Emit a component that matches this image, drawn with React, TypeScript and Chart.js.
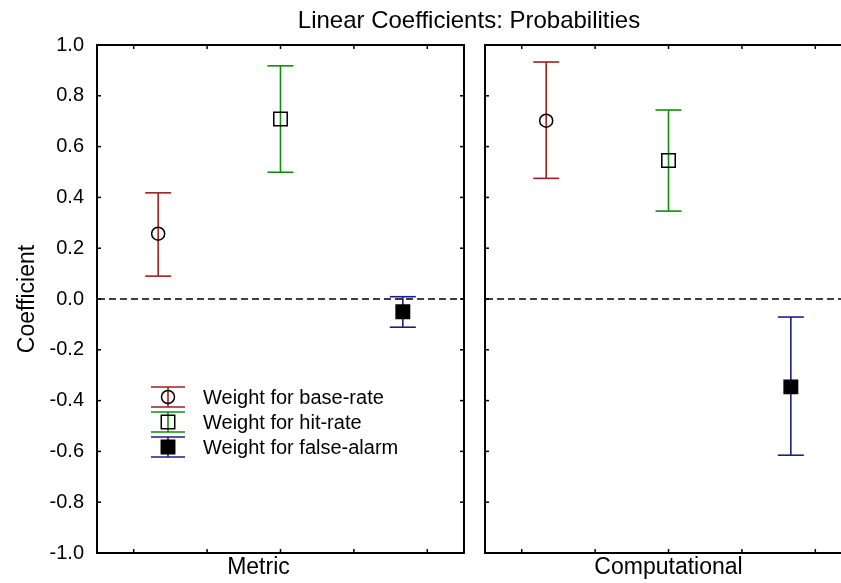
import React, { useEffect, useRef } from 'react';
import { Chart, registerables } from 'chart.js';

Chart.register(...registerables);

// ---------- data ----------
const TITLE = 'Linear Coefficients: Probabilities';
const Y_TITLE = 'Coefficient';
const PANELS = ['Metric', 'Computational'];
const SERIES = ['Weight for base-rate', 'Weight for hit-rate', 'Weight for false-alarm'];

// one value per panel (Metric, Computational)
const BASE_RATE = [0.257, 0.702];
const BASE_RATE_LO = [0.09, 0.475];
const BASE_RATE_HI = [0.418, 0.933];

const HIT_RATE = [0.709, 0.545];
const HIT_RATE_LO = [0.499, 0.346];
const HIT_RATE_HI = [0.918, 0.744];

const FALSE_ALARM = [-0.05, -0.346];
const FALSE_ALARM_LO = [-0.111, -0.615];
const FALSE_ALARM_HI = [0.009, -0.071];

const Y_TICKS = [-1.0, -0.8, -0.6, -0.4, -0.2, 0.0, 0.2, 0.4, 0.6, 0.8, 1.0];

// ---------- layout / style ----------
const W = 841;
const H = 583;
const FONT = '"Liberation Sans", Arial, Helvetica, sans-serif';
const SPAN = 3; // each panel covers 3 x-units (one per series)
const GAP = 0.172; // gap between the panels in x-units
const X_MAX = 6.082; // visible right edge (second panel is cut off)
const LABEL_POS = [1.32, 1.5]; // label centre within each panel
const X_TICK_FRACS = [0.1, 0.3, 0.5, 0.7, 0.9];
const TICK = 4;
const CAP = 13;

const COLORS = ['#9c2020', '#108c10', '#1c1c8c'];
const STYLES = ['circle', 'rect', 'rect'];
const RADII = [6.5, 9.5, 9.5];
const FILLS = ['rgba(0,0,0,0)', 'rgba(0,0,0,0)', '#000'];

const VALUES = [BASE_RATE, HIT_RATE, FALSE_ALARM];
const LOWS = [BASE_RATE_LO, HIT_RATE_LO, FALSE_ALARM_LO];
const HIGHS = [BASE_RATE_HI, HIT_RATE_HI, FALSE_ALARM_HI];

const panelStart = (p: number) => p * (SPAN + GAP);

function line(ctx: CanvasRenderingContext2D, x0: number, y0: number, x1: number, y1: number) {
  ctx.beginPath();
  ctx.moveTo(x0, y0);
  ctx.lineTo(x1, y1);
  ctx.stroke();
}

function drawMarker(ctx: CanvasRenderingContext2D, s: number, x: number, y: number) {
  ctx.save();
  ctx.lineWidth = 1.5;
  ctx.strokeStyle = '#000';
  ctx.fillStyle = FILLS[s];
  if (STYLES[s] === 'circle') {
    ctx.beginPath();
    ctx.arc(x, y, RADII[s], 0, Math.PI * 2);
    ctx.fill();
    ctx.stroke();
  } else {
    const h = RADII[s] * Math.SQRT1_2;
    ctx.beginPath();
    ctx.rect(x - h, y - h, 2 * h, 2 * h);
    ctx.fill();
    ctx.stroke();
  }
  ctx.restore();
}

const framePlugin = {
  id: 'panelFrame',
  beforeDatasetsDraw(chart: any) {
    const { ctx, scales, chartArea } = chart;
    const x = scales.x;
    const y = scales.y;
    const yT = y.getPixelForValue(Y_TICKS[Y_TICKS.length - 1]);
    const yB = y.getPixelForValue(Y_TICKS[0]);
    const y0 = y.getPixelForValue(0);
    ctx.save();
    PANELS.forEach((name, p) => {
      const x0 = x.getPixelForValue(panelStart(p));
      const x1 = x.getPixelForValue(panelStart(p) + SPAN);
      ctx.strokeStyle = '#000';
      ctx.lineWidth = 2;
      ctx.setLineDash([]);
      ctx.strokeRect(x0, yT, x1 - x0, yB - yT);
      ctx.lineWidth = 1.5;
      Y_TICKS.forEach((v) => {
        const py = y.getPixelForValue(v);
        line(ctx, x0, py, x0 + TICK, py);
        line(ctx, x1, py, x1 - TICK, py);
      });
      X_TICK_FRACS.forEach((f) => {
        const px = x.getPixelForValue(panelStart(p) + f * SPAN);
        line(ctx, px, yB, px, yB - TICK);
        line(ctx, px, yT, px, yT + TICK);
      });
      ctx.lineWidth = 1.3;
      ctx.setLineDash([7, 4]);
      line(ctx, x0 + 1, y0, x1 - 1, y0);
      ctx.setLineDash([]);
      // panel (category) label
      ctx.fillStyle = '#000';
      ctx.font = `23px ${FONT}`;
      ctx.textAlign = 'center';
      ctx.textBaseline = 'middle';
      ctx.fillText(name, x.getPixelForValue(panelStart(p) + LABEL_POS[p]), chartArea.bottom + 14.5);
    });
    // error bars
    chart.data.datasets.forEach((ds: any, s: number) => {
      ctx.strokeStyle = COLORS[s];
      ctx.lineWidth = 1.6;
      ds.data.forEach((d: any) => {
        const px = x.getPixelForValue(d.x);
        const lo = y.getPixelForValue(d.lo);
        const hi = y.getPixelForValue(d.hi);
        line(ctx, px, lo, px, hi);
        line(ctx, px - CAP, lo, px + CAP, lo);
        line(ctx, px - CAP, hi, px + CAP, hi);
      });
    });
    ctx.restore();
  },
  afterDraw(chart: any) {
    const { ctx, chartArea } = chart;
    const sx = chartArea.left + 71;
    const tx = chartArea.left + 106;
    ctx.save();
    SERIES.forEach((name, s) => {
      const cy = chartArea.top + 352 + s * 25;
      ctx.strokeStyle = COLORS[s];
      ctx.lineWidth = 1.6;
      line(ctx, sx, cy - 10, sx, cy + 10);
      line(ctx, sx - 17, cy - 10, sx + 17, cy - 10);
      line(ctx, sx - 17, cy + 10, sx + 17, cy + 10);
      drawMarker(ctx, s, sx, cy);
      ctx.fillStyle = '#000';
      ctx.font = `20px ${FONT}`;
      ctx.textAlign = 'left';
      ctx.textBaseline = 'middle';
      ctx.fillText(name, tx, cy + 1);
    });
    ctx.restore();
  },
};

export default function App() {
  const ref = useRef<HTMLCanvasElement | null>(null);

  useEffect(() => {
    if (!ref.current) return;
    const datasets = SERIES.map((name, s) => ({
      label: name,
      data: PANELS.map((_, p) => ({
        x: panelStart(p) + s + 0.5,
        y: VALUES[s][p],
        lo: LOWS[s][p],
        hi: HIGHS[s][p],
      })),
      showLine: false,
      pointStyle: STYLES[s],
      pointRadius: RADII[s],
      pointHoverRadius: RADII[s],
      pointBorderWidth: 1.5,
      pointBorderColor: '#000',
      pointBackgroundColor: FILLS[s],
      borderColor: '#000',
      backgroundColor: FILLS[s],
    }));

    const chart = new Chart(ref.current, {
      type: 'scatter',
      data: { datasets },
      options: {
        animation: false,
        responsive: false,
        devicePixelRatio: 1,
        layout: { padding: 0, autoPadding: false },
        plugins: {
          legend: { display: false },
          tooltip: { enabled: false },
          title: {
            display: true,
            text: TITLE,
            fullSize: false,
            color: '#000',
            font: { family: FONT, size: 24, weight: 'normal' },
            padding: { top: 7, bottom: 9.2 },
          },
        },
        scales: {
          x: {
            type: 'linear',
            min: 0,
            max: X_MAX,
            border: { display: false },
            grid: { display: false, drawTicks: false },
            ticks: { display: false },
            afterFit: (scale: any) => {
              scale.height = 30;
              scale.paddingLeft = 0;
              scale.paddingRight = 0;
            },
          },
          y: {
            type: 'linear',
            min: Y_TICKS[0],
            max: Y_TICKS[Y_TICKS.length - 1],
            border: { display: false },
            grid: { display: false, drawTicks: false },
            afterBuildTicks: (scale: any) => {
              scale.ticks = Y_TICKS.map((v) => ({ value: v }));
            },
            afterFit: (scale: any) => {
              scale.width = 97;
            },
            ticks: {
              padding: 13,
              color: '#000',
              font: { family: FONT, size: 20 },
              callback: (v: any) => Number(v).toFixed(1),
            },
            title: {
              display: true,
              text: Y_TITLE,
              color: '#000',
              font: { family: FONT, size: 23 },
              padding: { top: 14, bottom: 0 },
            },
          },
        },
      },
      plugins: [framePlugin],
    } as any);

    return () => chart.destroy();
  }, []);

  return (
    <div
      style={{
        position: 'fixed',
        left: 0,
        top: 0,
        width: W,
        height: H,
        overflow: 'hidden',
        background: '#fff',
      }}
    >
      <canvas ref={ref} width={W} height={H} style={{ width: W, height: H, display: 'block' }} />
    </div>
  );
}
